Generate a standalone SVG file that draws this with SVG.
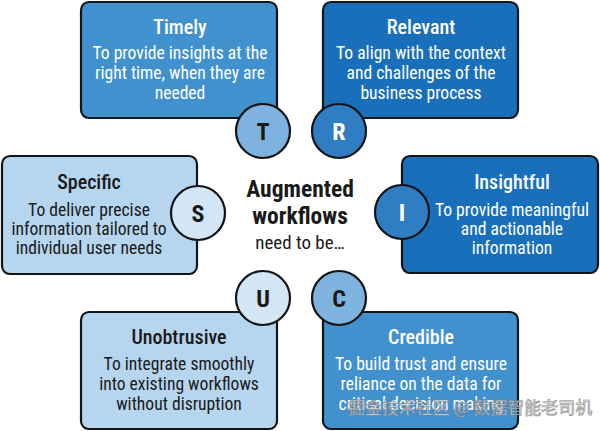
<svg xmlns="http://www.w3.org/2000/svg" width="600" height="431" viewBox="0 0 600 431">
<style>
.box{stroke:#141414;stroke-width:2.2}
.circ{stroke:#141414;stroke-width:2.2}
text{font-family:"Roboto Condensed","Liberation Sans Narrow","DejaVu Sans Condensed","Liberation Sans",sans-serif;font-stretch:condensed;text-anchor:middle}
.title{font-size:20px;font-weight:500}
.desc{font-size:17.6px;font-weight:400}
.letter{font-size:24px;font-weight:bold}
.w{fill:#ffffff}
.k{fill:#1a1a1a}
.mid{fill:#4291cf}
.dark{fill:#1a6fba}
.light{fill:#b6d5ee}
.cmid{fill:#7fb3df}
.cdark{fill:#2f7ec4}
.clight{fill:#d3e6f5}
</style>
<rect width="600" height="431" fill="#ffffff"/>
<g id="node-timely">
<rect class="box mid" x="81" y="2" width="196" height="116" rx="8"/>
<text class="title w" x="180" y="34">Timely</text>
<text class="desc w" x="180" y="59">To provide insights at the</text>
<text class="desc w" x="180" y="79">right time, when they are</text>
<text class="desc w" x="180" y="99">needed</text>
<circle class="circ cmid" cx="263" cy="131" r="27"/>
<text class="letter k" x="263" y="139.5">T</text>
</g>
<g id="node-relevant">
<rect class="box dark" x="323" y="2" width="195" height="116" rx="8"/>
<text class="title w" x="421" y="34">Relevant</text>
<text class="desc w" x="421" y="59">To align with the context</text>
<text class="desc w" x="421" y="79">and challenges of the</text>
<text class="desc w" x="421" y="99">business process</text>
<circle class="circ cdark" cx="339" cy="131" r="27"/>
<text class="letter w" x="339" y="139.5">R</text>
</g>
<g id="node-specific">
<rect class="box light" x="2" y="156" width="195" height="118" rx="8"/>
<text class="title k" x="89" y="189">Specific</text>
<text class="desc k" x="89" y="216">To deliver precise</text>
<text class="desc k" x="89" y="235">information tailored to</text>
<text class="desc k" x="89" y="254">individual user needs</text>
<circle class="circ clight" cx="198" cy="213" r="27"/>
<text class="letter k" x="198" y="221.5">S</text>
</g>
<g id="node-insightful">
<rect class="box dark" x="402" y="156" width="196" height="117" rx="8"/>
<text class="title w" x="512" y="189">Insightful</text>
<text class="desc w" x="512" y="216">To provide meaningful</text>
<text class="desc w" x="512" y="235">and actionable</text>
<text class="desc w" x="512" y="254">information</text>
<circle class="circ cdark" cx="402" cy="212" r="27"/>
<text class="letter w" x="402" y="220.5">I</text>
</g>
<g id="node-unobtrusive">
<rect class="box light" x="81" y="312" width="196" height="117" rx="8"/>
<text class="title k" x="179" y="344">Unobtrusive</text>
<text class="desc k" x="179" y="370">To integrate smoothly</text>
<text class="desc k" x="179" y="390">into existing workflows</text>
<text class="desc k" x="179" y="410">without disruption</text>
<circle class="circ clight" cx="263" cy="298" r="27"/>
<text class="letter k" x="263" y="306.5">U</text>
</g>
<g id="node-credible">
<rect class="box mid" x="323" y="312" width="195" height="117" rx="8"/>
<text class="title w" x="421" y="344">Credible</text>
<text class="desc w" x="421" y="370">To build trust and ensure</text>
<text class="desc w" x="421" y="390">reliance on the data for</text>
<text class="desc w" x="421" y="410">critical decision making</text>
<circle class="circ cmid" cx="339" cy="298" r="27"/>
<text class="letter k" x="339" y="306.5">C</text>
</g>
<g id="center">
<text class="k" x="300" y="197" style="font-size:23.5px;font-weight:bold">Augmented</text>
<text class="k" x="300" y="223.5" style="font-size:23.5px;font-weight:bold">workflows</text>
<text class="k" x="300" y="248.5" style="font-size:19px">need to be…</text>
</g>
<g id="watermark">
<text x="470" y="414" style="font-family:'Noto Sans CJK SC',sans-serif;font-size:17px;fill:#eeeeee;stroke:#777777;stroke-width:0.6;opacity:0.9">掘金技术社区 @ 数据智能老司机</text>
</g>
</svg>
